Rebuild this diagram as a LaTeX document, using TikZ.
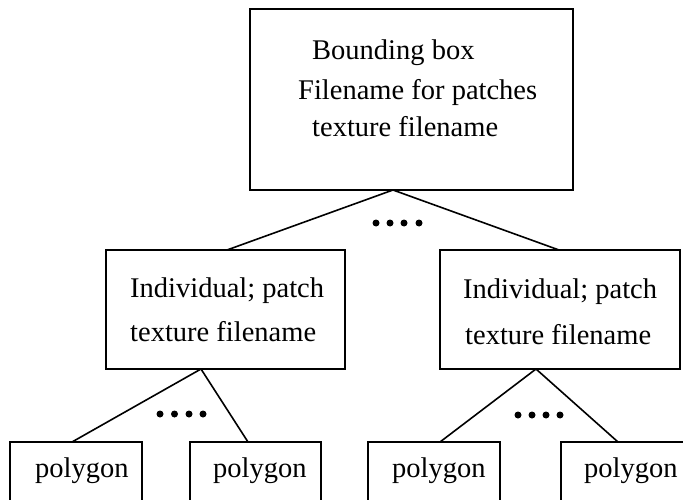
\documentclass[tikz,border=0pt]{standalone}
\usepackage{fontspec}
\setmainfont{Liberation Serif}
\begin{document}
\begin{tikzpicture}[x=1pt,y=-1pt,
  box/.style={draw, line width=1.6pt, inner sep=0pt, outer sep=0pt},
  txt/.style={anchor=base west, inner sep=0pt, font=\fontsize{28.5}{34}\selectfont},
  conn/.style={line width=1.6pt},
  dotn/.style={circle, fill, inner sep=0pt, minimum size=7pt}]
\useasboundingbox (0,0) rectangle (683,500);
\clip (0,0) rectangle (683,500);
% boxes
\node[box, minimum width=323pt, minimum height=181pt] (top) at (411.5,99.5) {};
\node[box, minimum width=239pt, minimum height=119pt] (midL) at (225.5,309.5) {};
\node[box, minimum width=240pt, minimum height=119pt] (midR) at (560,309.5) {};
\node[box, minimum width=132pt, minimum height=70pt] (p1) at (76,477) {};
\node[box, minimum width=131pt, minimum height=70pt] (p2) at (255.5,477) {};
\node[box, minimum width=132pt, minimum height=70pt] (p3) at (434,477) {};
\node[box, minimum width=139pt, minimum height=70pt] (p4) at (630.5,477) {};
% texts
\node[txt] (t1) at (312,60) {Bounding box};
\node[txt] (t2) at (298,100) {Filename for patches};
\node[txt] (t3) at (312,137) {texture filename};
\node[txt] (l1) at (130,297) {Individual; patch};
\node[txt] (l2) at (130,341) {texture filename};
\node[txt] (r1) at (463,298) {Individual; patch};
\node[txt] (r2) at (465,344) {texture filename};
\node[txt] (q1) at (35,477) {polygon};
\node[txt] (q2) at (213,477) {polygon};
\node[txt] (q3) at (392,477) {polygon};
\node[txt] (q4) at (584,477) {polygon};
% connector points
\coordinate (topA) at (393,190);
\coordinate (midLT) at (227,250);
\coordinate (midRT) at (559,250);
\coordinate (midLA) at (201,369);
\coordinate (midRA) at (536,369);
\coordinate (p1T) at (72,442);
\coordinate (p2T) at (248,442);
\coordinate (p3T) at (440,442);
\coordinate (p4T) at (618,442);
\draw[conn] (topA) -- (midLT);
\draw[conn] (topA) -- (midRT);
\draw[conn] (midLA) -- (p1T);
\draw[conn] (midLA) -- (p2T);
\draw[conn] (midRA) -- (p3T);
\draw[conn] (midRA) -- (p4T);
% dots
\foreach \x [count=\i] in {376,390,404,419} \node[dotn] (da\i) at (\x,223) {};
\foreach \x [count=\i] in {160,174.5,189,203} \node[dotn] (db\i) at (\x,414) {};
\foreach \x [count=\i] in {518,532,546,560} \node[dotn] (dc\i) at (\x,415) {};
\end{tikzpicture}
\end{document}
